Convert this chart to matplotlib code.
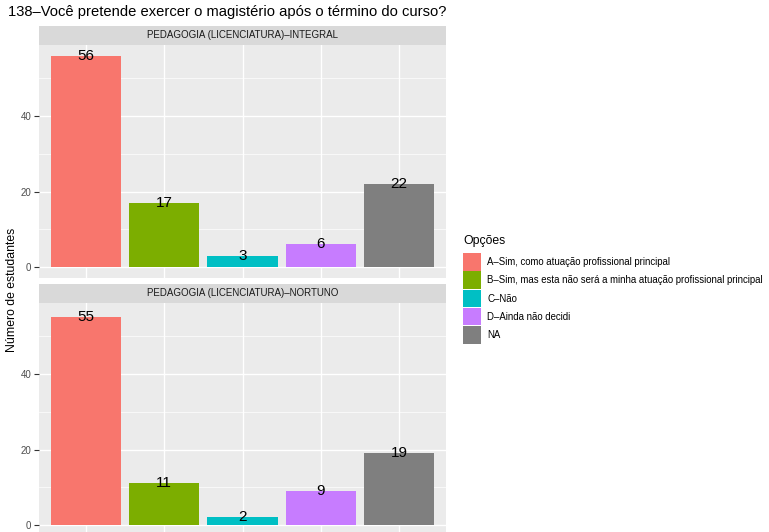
import matplotlib
matplotlib.use("Agg")
import matplotlib.pyplot as plt
from matplotlib.patches import Rectangle

plt.rcParams['font.family'] = ['Liberation Sans', 'DejaVu Sans']

# data
opcoes = ["A–Sim, como atuação profissional principal",
          "B–Sim, mas esta não será a minha atuação profissional principal",
          "C–Não",
          "D–Ainda não decidi",
          "NA"]
cores = ["#F8766D", "#7CAE00", "#00BFC4", "#C77CFF", "#7F7F7F"]
cursos = ["PEDAGOGIA (LICENCIATURA)–INTEGRAL", "PEDAGOGIA (LICENCIATURA)–NORTUNO"]
contagens = [[56, 17, 3, 6, 22],
             [55, 11, 2, 9, 19]]
yticks = [0, 20, 40]
titulo = "138–Você pretende exercer o magistério após o término do curso?"

W, H = 769, 532
fig = plt.figure(figsize=(W / 100, H / 100), dpi=100)

def fx(px):
    return px / W

def fy(py):
    return 1 - py / H

ymax = max(max(c) for c in contagens)
pad = ymax * 0.05

# (strip top, panel top) in pixels
layout = [(26, 45), (284, 303)]
panel_h = 232.6
left, right = 39, 446

for k, (strip_top, panel_top) in enumerate(layout):
    # strip
    sax = fig.add_axes([fx(left), fy(panel_top), fx(right - left), (panel_top - strip_top) / H])
    sax.set_facecolor("#D9D9D9")
    sax.set_xticks([])
    sax.set_yticks([])
    for s in sax.spines.values():
        s.set_visible(False)
    sax.text(0.5, 0.5, cursos[k], ha="center", va="center", fontsize=7.0,
             color="#1A1A1A", transform=sax.transAxes)

    ax = fig.add_axes([fx(left), fy(panel_top + panel_h), fx(right - left), panel_h / H])
    ax.set_facecolor("#EBEBEB")
    xs = list(range(1, len(opcoes) + 1))
    ax.bar(xs, contagens[k], width=0.9, color=cores, zorder=3)
    for x, v in zip(xs, contagens[k]):
        ax.text(x, v, str(v), ha="center", va="center", fontsize=11, color="black", zorder=4)
    ax.set_xlim(0.4, len(opcoes) + 0.6)
    ax.set_ylim(-pad, ymax + pad)
    ax.set_xticks(xs)
    ax.set_xticklabels([])
    ax.tick_params(axis="x", length=0)
    ax.set_yticks(yticks)
    ax.set_yticks([10, 30, 50], minor=True)
    ax.set_yticklabels([str(t) for t in yticks], fontsize=7, color="#4D4D4D")
    ax.tick_params(axis="y", which="major", length=3.5, color="#333333", pad=2)
    ax.tick_params(axis="y", which="minor", length=0)
    ax.grid(which="major", color="white", linewidth=1.0, zorder=0)
    ax.grid(which="minor", axis="y", color="white", linewidth=0.5, zorder=0)
    for s in ax.spines.values():
        s.set_visible(False)

fig.text(fx(8), fy(12), titulo, ha="left", va="center", fontsize=10.65, color="black")
fig.text(fx(12), fy(290), "Número de estudantes", rotation=90, ha="center", va="center",
         fontsize=8.8, color="black")

# legend
fig.text(fx(463), fy(241), "Opções", ha="left", va="center", fontsize=8.8, color="black")
key = 18.3
for i, (lab, c) in enumerate(zip(opcoes, cores)):
    top = 253 + i * key
    fig.patches.append(Rectangle((fx(463), fy(top + key - 0.8)), fx(17.5), (key - 0.8) / H,
                                 transform=fig.transFigure, facecolor=c, edgecolor="none"))
    fig.text(fx(487), fy(top + key / 2), lab, ha="left", va="center", fontsize=6.9, color="black")

fig.savefig("out.png", dpi=100)
